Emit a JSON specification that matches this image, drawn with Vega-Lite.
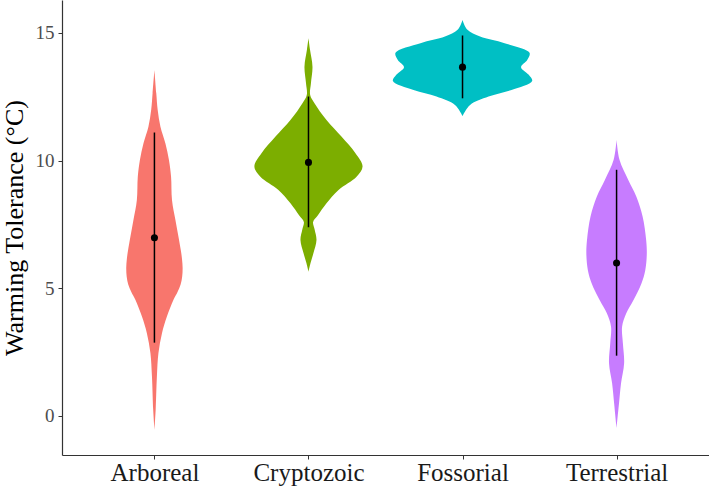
{
  "$schema": "https://vega.github.io/schema/vega-lite/v6.json",
  "width": 647,
  "height": 455,
  "autosize": {"type": "none"},
  "padding": {"left": 62, "top": 0, "right": 0, "bottom": 34},
  "background": "white",
  "config": {
    "view": {"stroke": null},
    "font": "Liberation Serif",
    "axis": {"grid": false}
  },
  "datasets": {
    "violin": [
      {"g": "Arboreal", "y": -0.55, "half": 0},
      {"g": "Arboreal", "y": 0.24, "half": 0.008},
      {"g": "Arboreal", "y": 1.54, "half": 0.016},
      {"g": "Arboreal", "y": 2.46, "half": 0.026},
      {"g": "Arboreal", "y": 3.24, "half": 0.049},
      {"g": "Arboreal", "y": 3.89, "half": 0.081},
      {"g": "Arboreal", "y": 4.54, "half": 0.123},
      {"g": "Arboreal", "y": 4.85, "half": 0.15},
      {"g": "Arboreal", "y": 5.15, "half": 0.17},
      {"g": "Arboreal", "y": 5.45, "half": 0.18},
      {"g": "Arboreal", "y": 5.8, "half": 0.183},
      {"g": "Arboreal", "y": 6.15, "half": 0.179},
      {"g": "Arboreal", "y": 6.5, "half": 0.171},
      {"g": "Arboreal", "y": 7.02, "half": 0.156},
      {"g": "Arboreal", "y": 7.68, "half": 0.136},
      {"g": "Arboreal", "y": 8.46, "half": 0.114},
      {"g": "Arboreal", "y": 9.37, "half": 0.108},
      {"g": "Arboreal", "y": 10.03, "half": 0.094},
      {"g": "Arboreal", "y": 10.68, "half": 0.071},
      {"g": "Arboreal", "y": 11.33, "half": 0.039},
      {"g": "Arboreal", "y": 11.99, "half": 0.021},
      {"g": "Arboreal", "y": 12.64, "half": 0.012},
      {"g": "Arboreal", "y": 13.55, "half": 0},
      {"g": "Cryptozoic", "y": 5.65, "half": 0},
      {"g": "Cryptozoic", "y": 5.98, "half": 0.013},
      {"g": "Cryptozoic", "y": 6.37, "half": 0.032},
      {"g": "Cryptozoic", "y": 6.89, "half": 0.052},
      {"g": "Cryptozoic", "y": 7.3, "half": 0.04},
      {"g": "Cryptozoic", "y": 7.6, "half": 0.03},
      {"g": "Cryptozoic", "y": 7.85, "half": 0.06},
      {"g": "Cryptozoic", "y": 8.33, "half": 0.117},
      {"g": "Cryptozoic", "y": 8.85, "half": 0.195},
      {"g": "Cryptozoic", "y": 9.37, "half": 0.312},
      {"g": "Cryptozoic", "y": 9.77, "half": 0.351},
      {"g": "Cryptozoic", "y": 10.29, "half": 0.305},
      {"g": "Cryptozoic", "y": 10.94, "half": 0.214},
      {"g": "Cryptozoic", "y": 11.59, "half": 0.117},
      {"g": "Cryptozoic", "y": 12.25, "half": 0.039},
      {"g": "Cryptozoic", "y": 12.57, "half": 0.011},
      {"g": "Cryptozoic", "y": 13.03, "half": 0.016},
      {"g": "Cryptozoic", "y": 13.68, "half": 0.026},
      {"g": "Cryptozoic", "y": 14.34, "half": 0.01},
      {"g": "Cryptozoic", "y": 14.79, "half": 0},
      {"g": "Fossorial", "y": 11.75, "half": 0},
      {"g": "Fossorial", "y": 12.18, "half": 0.049},
      {"g": "Fossorial", "y": 12.51, "half": 0.169},
      {"g": "Fossorial", "y": 12.77, "half": 0.318},
      {"g": "Fossorial", "y": 13.12, "half": 0.452},
      {"g": "Fossorial", "y": 13.36, "half": 0.43},
      {"g": "Fossorial", "y": 13.66, "half": 0.38},
      {"g": "Fossorial", "y": 13.94, "half": 0.42},
      {"g": "Fossorial", "y": 14.22, "half": 0.435},
      {"g": "Fossorial", "y": 14.6, "half": 0.273},
      {"g": "Fossorial", "y": 14.86, "half": 0.114},
      {"g": "Fossorial", "y": 15.12, "half": 0.032},
      {"g": "Fossorial", "y": 15.51, "half": 0},
      {"g": "Terrestrial", "y": -0.48, "half": 0},
      {"g": "Terrestrial", "y": 0.5, "half": 0.016},
      {"g": "Terrestrial", "y": 1.28, "half": 0.029},
      {"g": "Terrestrial", "y": 2.06, "half": 0.049},
      {"g": "Terrestrial", "y": 2.85, "half": 0.041},
      {"g": "Terrestrial", "y": 3.5, "half": 0.036},
      {"g": "Terrestrial", "y": 4.02, "half": 0.063},
      {"g": "Terrestrial", "y": 4.54, "half": 0.11},
      {"g": "Terrestrial", "y": 5.2, "half": 0.162},
      {"g": "Terrestrial", "y": 5.7, "half": 0.186},
      {"g": "Terrestrial", "y": 6.3, "half": 0.196},
      {"g": "Terrestrial", "y": 6.89, "half": 0.192},
      {"g": "Terrestrial", "y": 7.81, "half": 0.169},
      {"g": "Terrestrial", "y": 8.59, "half": 0.128},
      {"g": "Terrestrial", "y": 9.24, "half": 0.076},
      {"g": "Terrestrial", "y": 10.03, "half": 0.019},
      {"g": "Terrestrial", "y": 10.81, "half": 0}
    ],
    "summary": [
      {"g": "Arboreal", "mean": 6.98, "lo": 2.87, "hi": 11.1},
      {"g": "Cryptozoic", "mean": 9.93, "lo": 7.39, "hi": 12.51},
      {"g": "Fossorial", "mean": 13.66, "lo": 12.44, "hi": 14.9},
      {"g": "Terrestrial", "mean": 5.99, "lo": 2.36, "hi": 9.64}
    ]
  },
  "layer": [
    {
      "data": {"name": "violin"},
      "transform": [
        {"calculate": "indexof(['Arboreal','Cryptozoic','Fossorial','Terrestrial'], datum.g) + 1", "as": "pos"},
        {"calculate": "datum.pos - datum.half", "as": "left"},
        {"calculate": "datum.pos + datum.half", "as": "right"}
      ],
      "mark": {"type": "area", "orient": "horizontal", "interpolate": "catmull-rom", "opacity": 1},
      "encoding": {
        "y": {"field": "y", "type": "quantitative", "scale": {"domain": [-1.53, 16.29], "nice": false, "zero": false},
          "axis": {"values": [0, 5, 10, 15], "title": "Warming Tolerance (°C)", "titleFontSize": 26, "titleFontWeight": "normal", "titleColor": "black", "titlePadding": 8,
            "labelFontSize": 19, "labelColor": "#4d4d4d", "labelPadding": 4, "tickSize": 4, "tickColor": "#333333", "domainColor": "#333333", "domainWidth": 1.2}},
        "x": {"field": "left", "type": "quantitative", "scale": {"domain": [0.4, 4.6], "nice": false, "zero": false},
          "axis": {"values": [1, 2, 3, 4], "title": null, "labelExpr": "['','Arboreal','Cryptozoic','Fossorial','Terrestrial'][datum.value]",
            "labelFontSize": 25, "labelColor": "#1a1a1a", "labelPadding": 1, "tickSize": 4, "tickColor": "#333333", "domainColor": "#333333", "domainWidth": 1.2}},
        "x2": {"field": "right"},
        "color": {"field": "g", "type": "nominal", "legend": null,
          "scale": {"domain": ["Arboreal", "Cryptozoic", "Fossorial", "Terrestrial"], "range": ["#F8766D", "#7CAE00", "#00BFC4", "#C77CFF"]}},
        "detail": {"field": "g"}
      }
    },
    {
      "data": {"name": "summary"},
      "transform": [
        {"calculate": "indexof(['Arboreal','Cryptozoic','Fossorial','Terrestrial'], datum.g) + 1", "as": "pos"}
      ],
      "mark": {"type": "rule", "color": "black", "strokeWidth": 1.5},
      "encoding": {
        "x": {"field": "pos", "type": "quantitative"},
        "y": {"field": "lo", "type": "quantitative"},
        "y2": {"field": "hi"}
      }
    },
    {
      "data": {"name": "summary"},
      "transform": [
        {"calculate": "indexof(['Arboreal','Cryptozoic','Fossorial','Terrestrial'], datum.g) + 1", "as": "pos"}
      ],
      "mark": {"type": "point", "filled": true, "color": "black", "opacity": 1, "size": 50},
      "encoding": {
        "x": {"field": "pos", "type": "quantitative"},
        "y": {"field": "mean", "type": "quantitative"}
      }
    }
  ]
}
